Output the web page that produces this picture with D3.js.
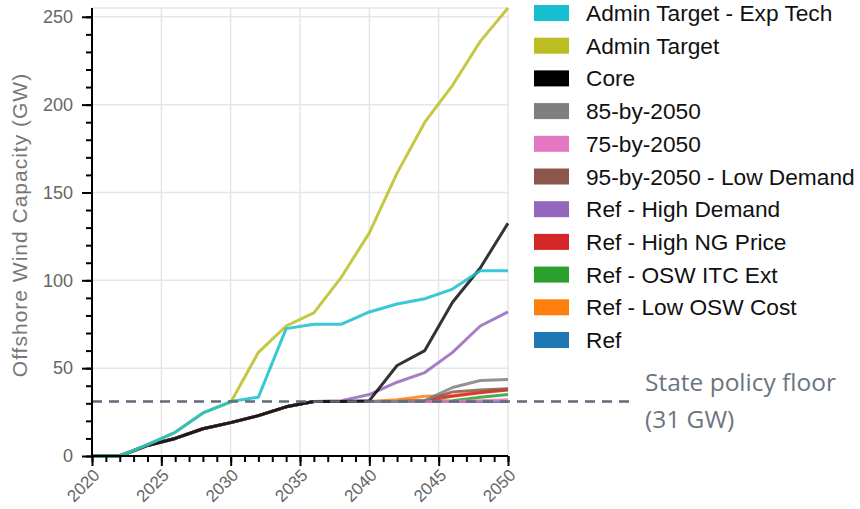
<!DOCTYPE html>
<html>
<head>
<meta charset="utf-8">
<script src="https://cdn.jsdelivr.net/npm/d3@7/dist/d3.min.js"></script>
<style>
  html, body { margin: 0; padding: 0; background: #fff; }
  svg { display: block; }
</style>
</head>
<body>
<svg id="chart" width="860" height="509"></svg>
<script>
// ---- Data ----
const years = [2020, 2022, 2024, 2026, 2028, 2030, 2032, 2034, 2036, 2038, 2040, 2042, 2044, 2046, 2048, 2050];

const seriesNames = [
  "Admin Target - Exp Tech", "Admin Target", "Core", "85-by-2050", "75-by-2050",
  "95-by-2050 - Low Demand", "Ref - High Demand", "Ref - High NG Price",
  "Ref - OSW ITC Ext", "Ref - Low OSW Cost", "Ref"
];
const seriesColors = [
  "#17becf", "#bcbd22", "#000000", "#7f7f7f", "#e377c2",
  "#8c564b", "#9467bd", "#d62728", "#2ca02c", "#ff7f0e", "#1f77b4"
];

const adminExpTech = [0, 0, 6.5, 13.5, 24.5, 31, 33.5, 72.5, 75, 75, 82, 86.5, 89.5, 95, 105.5, 105.5];
const adminTarget  = [0, 0, 6.5, 13.5, 24.5, 30.5, 59, 74, 81.5, 102, 127, 161, 190, 211, 236, 255];
const core         = [0, 0, 6, 10, 15.5, 19, 23, 28, 31, 31, 31.5, 51.5, 60, 87.5, 107, 132.5];
const by85         = [0, 0, 6, 10, 15.5, 19, 23, 28, 31, 31, 31, 31, 31.5, 39, 43, 43.5];
const by75         = [0, 0, 6, 10, 15.5, 19, 23, 28, 31, 31, 31, 31, 31, 31, 31.5, 32];
const by95LowDem   = [0, 0, 6, 10, 15.5, 19, 23, 28, 31, 31, 31, 31, 31.5, 36.5, 37.5, 38.3];
const refHighDem   = [0, 0, 6, 10, 15.5, 19, 23, 28, 31, 31.5, 35, 42, 47.5, 59, 74, 82];
const refHighNG    = [0, 0, 6, 10, 15.5, 19, 23, 28, 31, 31, 31, 31, 31.5, 34, 36, 37.5];
const refItcExt    = [0, 0, 6, 10, 15.5, 19, 23, 28, 31, 31, 31, 31, 31, 31.5, 33.5, 35];
const refLowCost   = [0, 0, 6, 10, 15.5, 19, 23, 28, 31, 31, 31, 32, 34, 34.5, 36.5, 38];
const ref          = [0, 0, 6, 10, 15.5, 19, 23, 28, 31, 31, 31, 31, 31, 31, 31, 31];

const seriesValues = [adminExpTech, adminTarget, core, by85, by75, by95LowDem,
                      refHighDem, refHighNG, refItcExt, refLowCost, ref];

const yMajorTicks = [0, 50, 100, 150, 200, 250];
const xMajorTicks = [2020, 2025, 2030, 2035, 2040, 2045, 2050];
const policyFloor = 31;
const policyLabel = ["State policy floor", "(31 GW)"];
const yTitle = "Offshore Wind Capacity (GW)";

// ---- Layout ----
const svg = d3.select("#chart");
const x = d3.scaleLinear().domain([2020, 2050]).range([92, 508]);
const y = d3.scaleLinear().domain([0, 255]).range([456, 8]);

const grid = svg.append("g");
grid.selectAll("line.h").data(yMajorTicks.filter(d => d > 0)).join("line")
  .attr("x1", x.range()[0]).attr("x2", x.range()[1])
  .attr("y1", d => y(d)).attr("y2", d => y(d))
  .attr("stroke", "#e6e6e6").attr("stroke-width", 1.5);
grid.append("line")
  .attr("x1", x.range()[0]).attr("x2", x.range()[1])
  .attr("y1", y.range()[1]).attr("y2", y.range()[1])
  .attr("stroke", "#e6e6e6").attr("stroke-width", 1.5);
grid.selectAll("line.v").data(xMajorTicks.filter(d => d > 2020)).join("line")
  .attr("x1", d => x(d)).attr("x2", d => x(d))
  .attr("y1", y.range()[0]).attr("y2", y.range()[1])
  .attr("stroke", "#e6e6e6").attr("stroke-width", 1.5);

// ---- Lines (drawn in reverse legend order) ----
const line = d3.line().x((d, i) => x(years[i])).y(d => y(d));
const order = d3.range(seriesNames.length).reverse();
svg.append("g").selectAll("path").data(order).join("path")
  .attr("d", i => line(seriesValues[i]))
  .attr("fill", "none")
  .attr("stroke", i => seriesColors[i])
  .attr("stroke-opacity", i => seriesColors[i] === "#000000" ? 0.8 : 0.85)
  .attr("stroke-width", 3)
  .attr("stroke-linejoin", "round");

// ---- Policy floor line ----
svg.append("line")
  .attr("x1", x(2020)).attr("x2", 633)
  .attr("y1", y(policyFloor)).attr("y2", y(policyFloor))
  .attr("stroke", "#5f6b78").attr("stroke-width", 2.5)
  .attr("stroke-dasharray", "10,7");
svg.append("g").selectAll("text").data(policyLabel).join("text")
  .attr("x", 645).attr("y", (d, i) => 391 + i * 37)
  .attr("font-family", "'Open Sans', Lato, sans-serif")
  .attr("font-size", 24.5)
  .attr("fill", "#6b7580")
  .text(d => d);

// ---- Axes ----
const yAxisMinor = d3.axisLeft(y).tickValues(d3.range(0, 251, 10)).tickSize(6).tickFormat("");
const yAxisMajor = d3.axisLeft(y).tickValues(yMajorTicks).tickSize(10).tickPadding(9);
const gyMin = svg.append("g").attr("transform", `translate(${x(2020)},0)`).call(yAxisMinor);
const gy = svg.append("g").attr("transform", `translate(${x(2020)},0)`).call(yAxisMajor);
[gyMin, gy].forEach(g => {
  g.select(".domain").attr("stroke", "#000").attr("stroke-width", 2)
    .attr("d", `M0,${y.range()[0]}V${y.range()[1]}`);
  g.selectAll(".tick line").attr("stroke", "#000").attr("stroke-width", 2);
});
gy.selectAll(".tick text")
  .attr("font-family", "'Liberation Sans', Arial, sans-serif")
  .attr("font-size", 18).attr("fill", "#666");

const xAxisMinor = d3.axisBottom(x).tickValues(d3.range(2020, 2051, 1)).tickSize(6).tickFormat("");
const xAxisMajor = d3.axisBottom(x).tickValues(xMajorTicks).tickSize(10).tickFormat(d3.format("d"));
const gxMin = svg.append("g").attr("transform", `translate(0,${y(0)})`).call(xAxisMinor);
const gx = svg.append("g").attr("transform", `translate(0,${y(0)})`).call(xAxisMajor);
[gxMin, gx].forEach(g => {
  g.select(".domain").attr("stroke", "#000").attr("stroke-width", 2)
    .attr("d", `M${x.range()[0]},0H${x.range()[1]}`);
  g.selectAll(".tick line").attr("stroke", "#000").attr("stroke-width", 2);
});
gx.selectAll(".tick text")
  .attr("font-family", "'Liberation Sans', Arial, sans-serif")
  .attr("font-size", 17).attr("fill", "#666")
  .attr("text-anchor", "end")
  .attr("dy", "0.35em")
  .attr("transform", "translate(4,16) rotate(-45)")
  .attr("y", 0).attr("x", 0);

// ---- Y title ----
svg.append("text")
  .attr("transform", "translate(27,225) rotate(-90)")
  .attr("text-anchor", "middle")
  .attr("font-family", "'Liberation Sans', Arial, sans-serif")
  .attr("font-size", 21)
  .attr("letter-spacing", 1)
  .attr("fill", "#777")
  .text(yTitle);

// ---- Legend ----
const legend = svg.append("g").selectAll("g").data(seriesNames).join("g")
  .attr("transform", (d, i) => `translate(534,${13 + i * 32.7})`);
legend.append("rect")
  .attr("x", 0).attr("y", -8).attr("width", 35).attr("height", 16)
  .attr("fill", (d, i) => seriesColors[i]);
legend.append("text")
  .attr("x", 52).attr("y", 8)
  .attr("font-family", "'Liberation Sans', Arial, sans-serif")
  .attr("font-size", 22.7).attr("fill", "#111")
  .text(d => d);
</script>
</body>
</html>
